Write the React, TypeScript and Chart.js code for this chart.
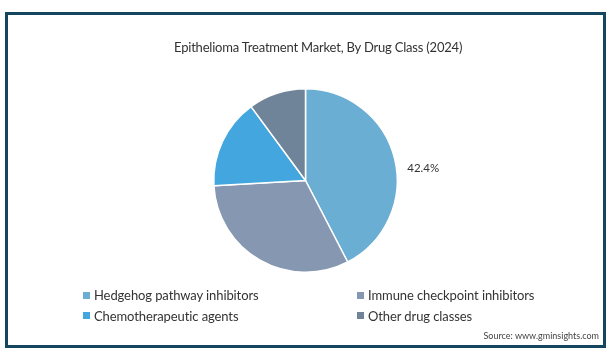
import React, { useEffect, useRef } from "react";
import { Chart, registerables } from "chart.js";

Chart.register(...registerables);

const TITLE = "Epithelioma Treatment Market, By Drug Class (2024)";
const SOURCE = "Source: www.gminsights.com";
const categories = [
  "Hedgehog pathway inhibitors",
  "Immune checkpoint inhibitors",
  "Chemotherapeutic agents",
  "Other drug classes",
];
const shares = [42.4, 31.7, 15.8, 10.1];
const colors = ["#6baed3", "#8597b1", "#43a6de", "#6f8498"];
const labelText = "42.4%";
const legendOrder = [0, 1, 2, 3];

const FONT = "Lato, 'Noto Sans', sans-serif";

const labelPlugin = {
  id: "sliceLabel",
  afterDatasetsDraw(chart: any) {
    const meta = chart.getDatasetMeta(0);
    const arc = meta.data[0];
    if (!arc) return;
    const { x, y, outerRadius } = arc.getProps(["x", "y", "outerRadius"], true);
    const ctx = chart.ctx;
    ctx.save();
    ctx.font = `11.5px ${FONT}`;
    ctx.fillStyle = "#333333";
    ctx.textAlign = "center";
    ctx.textBaseline = "middle";
    ctx.fillText(labelText, x + outerRadius + 26, y - 12);
    ctx.restore();
  },
};

export default function App() {
  const ref = useRef<HTMLCanvasElement | null>(null);

  useEffect(() => {
    if (!ref.current) return;
    const chart = new Chart(ref.current, {
      type: "pie",
      data: {
        labels: categories,
        datasets: [
          {
            data: shares,
            backgroundColor: colors,
            borderColor: "#ffffff",
            borderWidth: 1.5,
          },
        ],
      },
      options: {
        animation: false,
        responsive: false,
        maintainAspectRatio: false,
        layout: { padding: { left: 213, right: 217, top: 88, bottom: 82 } },
        plugins: {
          legend: { display: false },
          title: { display: false },
          tooltip: { enabled: false },
        },
      },
      plugins: [labelPlugin],
    });
    return () => chart.destroy();
  }, []);

  const legendPos = [
    { left: 83, top: 295 },
    { left: 357, top: 295 },
    { left: 83, top: 315.5 },
    { left: 357, top: 315.5 },
  ];

  return (
    <div
      style={{
        position: "fixed",
        left: 0,
        top: 0,
        width: 615,
        height: 355,
        background: "#ffffff",
        fontFamily: FONT,
        overflow: "hidden",
      }}
    >
      <div
        style={{
          position: "absolute",
          left: 5,
          top: 12,
          width: 601,
          height: 336,
          boxSizing: "border-box",
          border: "3px solid #14475f",
        }}
      />
      <canvas ref={ref} width={615} height={355} style={{ position: "absolute", left: 0, top: 0 }} />
      <div
        style={{
          position: "absolute",
          left: 174,
          top: 38,
          fontSize: 13,
          letterSpacing: -0.2,
          color: "#333333",
          lineHeight: "18px",
          whiteSpace: "nowrap",
        }}
      >
        {TITLE}
      </div>
      {legendOrder.map((i) => (
        <div
          key={i}
          style={{
            position: "absolute",
            left: legendPos[i].left,
            top: legendPos[i].top - 9,
            height: 18,
            display: "flex",
            alignItems: "center",
            fontSize: 13,
            letterSpacing: -0.1,
            color: "#333333",
            whiteSpace: "nowrap",
          }}
        >
          <span
            style={{
              display: "inline-block",
              width: 7,
              height: 7,
              background: colors[i],
              marginRight: 4,
            }}
          />
          {categories[i]}
        </div>
      ))}
      <div
        style={{
          position: "absolute",
          right: 16,
          top: 330,
          fontSize: 9,
          color: "#444444",
          lineHeight: "12px",
          whiteSpace: "nowrap",
        }}
      >
        {SOURCE}
      </div>
    </div>
  );
}
